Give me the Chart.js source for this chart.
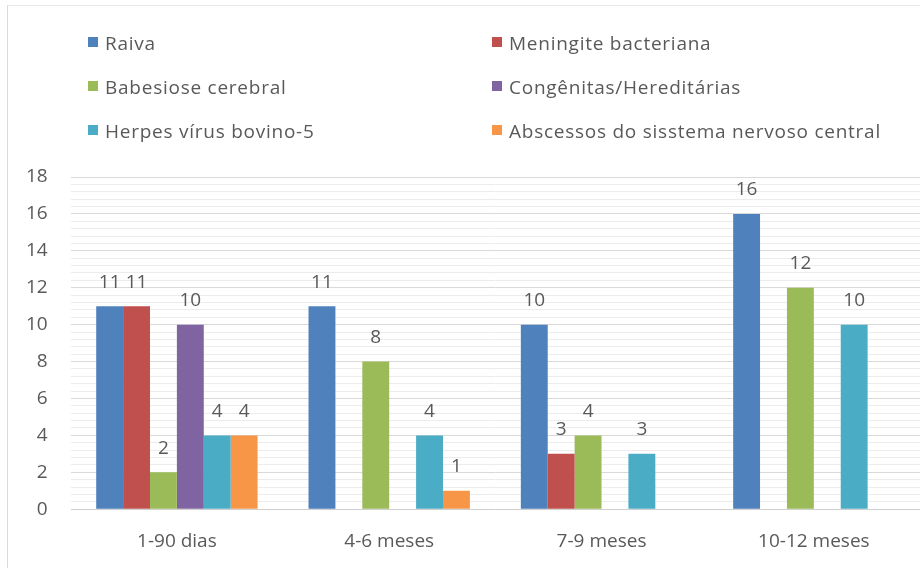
<!DOCTYPE html>
<html>
<head>
<meta charset="utf-8">
<script src="https://cdn.jsdelivr.net/npm/chart.js@4.4.0/dist/chart.umd.min.js"></script>
<style>
  body { margin: 0; background: #fff; }
  #box { position: relative; width: 920px; height: 568px; overflow: hidden; }
  #frame { position: absolute; left: 7px; top: 5px; right: 0; bottom: 0; border-left: 1px solid #d9d9d9; border-top: 1px solid #e8e8e8; pointer-events: none; }
  .lg-item { position: absolute; height: 24px; line-height: 24px; padding-left: 17px; font: 19px 'Open Sans', sans-serif; letter-spacing: .75px; color: #595959; white-space: nowrap; }
  .lg-item i { position: absolute; left: 0; top: 7px; width: 10px; height: 10px; }
</style>
</head>
<body>
<div id="box">
  <canvas id="chart" width="920" height="568"></canvas>
  <div id="legend"></div>
  <div id="frame"></div>
</div>
<script>
// categorias (idade)
var categories = ['1-90 dias', '4-6 meses', '7-9 meses', '10-12 meses'];

// series
var seriesNames = ['Raiva', 'Meningite bacteriana', 'Babesiose cerebral',
  'Congênitas/Hereditárias', 'Herpes vírus bovino-5', 'Abscessos do sisstema nervoso central'];
var raiva      = [11, 11, 10, 16];
var meningite  = [11, null, 3, null];
var babesiose  = [2, 8, 4, 12];
var congenitas = [10, null, null, null];
var herpes     = [4, 4, 3, 10];
var abscessos  = [4, 1, null, null];

var colors = ['#4F81BD', '#C0504D', '#9BBB59', '#8064A2', '#4BACC6', '#F79646'];
var yMax = 18;

Chart.defaults.font.family = "'Open Sans', sans-serif";
Chart.defaults.color = '#595959';

var allSeries = [raiva, meningite, babesiose, congenitas, herpes, abscessos];
var datasets = [];
for (var i = 0; i < allSeries.length; i++) {
  datasets.push({
    label: seriesNames[i],
    data: allSeries[i],
    backgroundColor: colors[i],
    barPercentage: 1.0,
    categoryPercentage: 0.76
  });
}

// numeros em cima das barras
var valueLabels = {
  id: 'valueLabels',
  afterDatasetsDraw: function(chart) {
    var ctx = chart.ctx;
    ctx.save();
    ctx.font = "19px 'Open Sans'";
    ctx.fillStyle = '#595959';
    ctx.textAlign = 'center';
    ctx.textBaseline = 'middle';
    chart.data.datasets.forEach(function(ds, i) {
      chart.getDatasetMeta(i).data.forEach(function(bar, j) {
        var v = ds.data[j];
        if (v == null) return;
        ctx.fillText(v, bar.x, bar.y - 24);
      });
    });
    ctx.restore();
  }
};

// legenda em 2 colunas
var htmlLegend = {
  id: 'htmlLegend',
  afterUpdate: function(chart) {
    var el = document.getElementById('legend');
    el.innerHTML = '';
    var cols = [88, 492], rows = [42, 86, 130];
    chart.data.datasets.forEach(function(ds, i) {
      var d = document.createElement('div');
      d.className = 'lg-item';
      d.style.left = cols[i % 2] + 'px';
      d.style.top = (rows[Math.floor(i / 2)] - 12) + 'px';
      d.innerHTML = '<i style="background:' + ds.backgroundColor + '"></i>' + ds.label;
      el.appendChild(d);
    });
  }
};

function isMajor(v) { return Math.round(v * 10) % 20 === 0; }

new Chart(document.getElementById('chart'), {
  type: 'bar',
  data: { labels: categories, datasets: datasets },
  plugins: [valueLabels, htmlLegend],
  options: {
    responsive: false,
    animation: false,
    layout: { padding: { top: 177, left: 3, right: -6, bottom: -6 } },
    plugins: { legend: { display: false }, tooltip: { enabled: false } },
    scales: {
      x: {
        grid: { display: false, drawTicks: false },
        border: { display: false },
        ticks: { font: { size: 19 }, padding: 21, color: '#595959' }
      },
      y: {
        min: 0,
        max: yMax,
        border: { display: false },
        grid: {
          drawTicks: false,
          color: function(c) {
            if (!c.tick) return '#d9d9d9';
            if (c.tick.value === 0) return '#cfcfcf';
            return isMajor(c.tick.value) ? '#d9d9d9' : '#ececec';
          }
        },
        ticks: {
          stepSize: 0.4,
          autoSkip: false,
          padding: 23,
          font: { size: 19 },
          color: '#595959',
          callback: function(v) { return isMajor(v) ? Math.round(v) : ''; }
        }
      }
    }
  }
});
</script>
</body>
</html>
